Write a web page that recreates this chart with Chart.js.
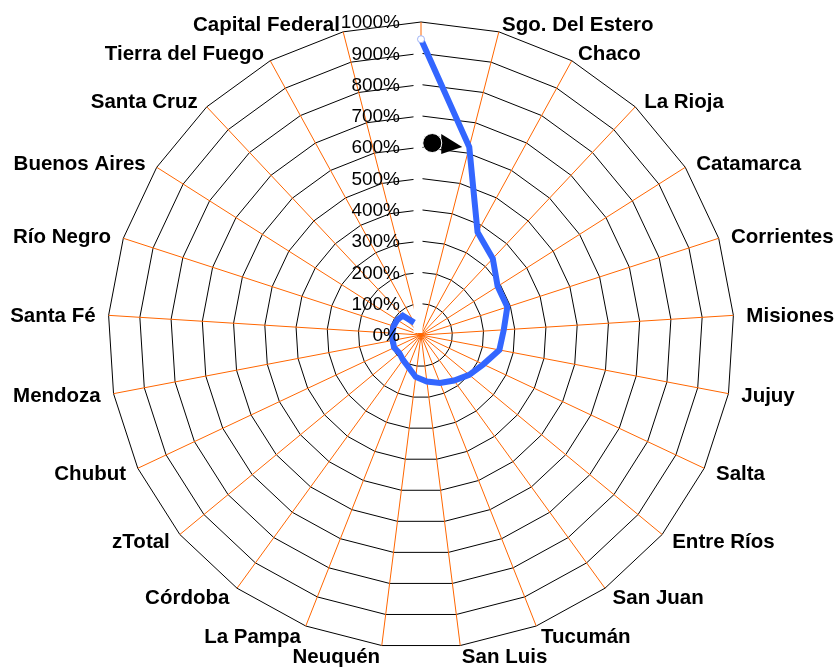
<!DOCTYPE html>
<html>
<head>
<meta charset="utf-8">
<script src="https://cdn.jsdelivr.net/npm/chart.js@4/dist/chart.umd.min.js"></script>
<style>
  html, body { margin: 0; padding: 0; background: #fff; }
  #wrap { width: 837px; height: 670px; position: relative; }
</style>
</head>
<body>
<div id="wrap"><canvas id="radar"></canvas></div>
<script>
// Categories clockwise from the top (first one has no label, last one has no value)
const provinces = [
    '', 'Sgo. Del Estero', 'Chaco', 'La Rioja', 'Catamarca', 'Corrientes',
    'Misiones', 'Jujuy', 'Salta', 'Entre Ríos', 'San Juan', 'Tucumán',
    'San Luis', 'Neuquén', 'La Pampa', 'Córdoba', 'zTotal', 'Chubut',
    'Mendoza', 'Santa Fé', 'Río Negro', 'Buenos Aires', 'Santa Cruz',
    'Tierra del Fuego', 'Capital Federal'
];

// Series values in percent
const values = [
    945, 620, 375, 335, 290, 290,
    265, 255, 220, 200, 180, 165,
    150, 135, 110, 98, 90, 95,
    92, 92, 92, 90, 85,
    45, null
];

const tickValues = [0, 100, 200, 300, 400, 500, 600, 700, 800, 900, 1000];
const tickLabels = ['0%', '100%', '200%', '300%', '400%', '500%', '600%', '700%', '800%', '900%', '1000%'];

const BLUE = '#3366ff';
const ORANGE = '#ff6600';

// White strip along the first spoke, under the line
const axisStrip = {
    id: 'axisStrip',
    beforeDatasetsDraw(chart) {
        const scale = chart.scales.r;
        const ctx = chart.ctx;
        const top = scale.getPointPositionForValue(0, values[0]);
        ctx.save();
        ctx.strokeStyle = '#fff';
        ctx.lineWidth = 9;
        ctx.beginPath();
        ctx.moveTo(scale.xCenter - 3, scale.yCenter - 2);
        ctx.lineTo(top.x - 3, top.y);
        ctx.stroke();
        ctx.restore();
    }
};

// Black circle + arrow pointing at the second point
const pointerMark = {
    id: 'pointerMark',
    afterDatasetsDraw(chart) {
        const p = chart.getDatasetMeta(0).data[1];
        const ctx = chart.ctx;
        ctx.save();
        ctx.fillStyle = '#000';
        ctx.beginPath();
        ctx.moveTo(p.x - 28, p.y - 13);
        ctx.lineTo(p.x - 7, p.y);
        ctx.lineTo(p.x - 28, p.y + 7);
        ctx.closePath();
        ctx.fill();
        ctx.strokeStyle = '#fff';
        ctx.lineWidth = 1;
        ctx.beginPath();
        ctx.arc(p.x - 37, p.y - 4, 9.5, 0, Math.PI * 2);
        ctx.fill();
        ctx.stroke();
        ctx.restore();
    }
};

// Tick labels left of the vertical axis, category labels outside the polygon
const excelLabels = {
    id: 'excelLabels',
    afterDraw(chart) {
        const scale = chart.scales.r;
        const ctx = chart.ctx;
        ctx.save();
        ctx.fillStyle = '#000';
        ctx.textBaseline = 'middle';

        ctx.font = '19px "Liberation Sans", Arial, sans-serif';
        ctx.textAlign = 'right';
        tickValues.forEach((v, i) => {
            const y = scale.yCenter - scale.getDistanceFromCenterForValue(v);
            ctx.fillText(tickLabels[i], scale.xCenter - 21, y + 1);
        });

        ctx.font = 'bold 20.5px "Liberation Sans", Arial, sans-serif';
        provinces.forEach((name, i) => {
            if (!name) return;
            const a = i * 2 * Math.PI / provinces.length;
            const s = Math.sin(a);
            const c = Math.cos(a);
            const p = scale.getPointPosition(i, scale.drawingArea);
            // upper labels sit a little closer to the polygon than lower ones
            const dy = c > 0 ? -c * 9 + 2 : -c * 11 + 1;
            ctx.textAlign = s >= 0 ? 'left' : 'right';
            ctx.fillText(name, p.x + s * 13, p.y + dy);
        });
        ctx.restore();
    }
};

new Chart(document.getElementById('radar'), {
    type: 'radar',
    data: {
        labels: provinces,
        datasets: [{
            data: values,
            borderColor: BLUE,
            backgroundColor: 'transparent',
            borderWidth: 6,
            fill: false,
            tension: 0,
            spanGaps: false,
            pointRadius: values.map((v, i) => i === 0 ? 3.5 : 0),
            pointBackgroundColor: '#fff',
            pointBorderColor: '#9fb3f5',
            pointBorderWidth: 1,
            pointHoverRadius: 0
        }]
    },
    options: {
        responsive: true,
        maintainAspectRatio: false,
        animation: false,
        layout: { padding: { top: 22, bottom: 22, left: 5, right: 0 } },
        plugins: {
            legend: { display: false },
            tooltip: { enabled: false }
        },
        scales: {
            r: {
                min: 0,
                max: 1000,
                ticks: { stepSize: 100, display: false },
                pointLabels: { display: false },
                grid: { color: '#000', lineWidth: 1, circular: false },
                angleLines: { color: ORANGE, lineWidth: 1 }
            }
        }
    },
    plugins: [axisStrip, pointerMark, excelLabels]
});
</script>
</body>
</html>
